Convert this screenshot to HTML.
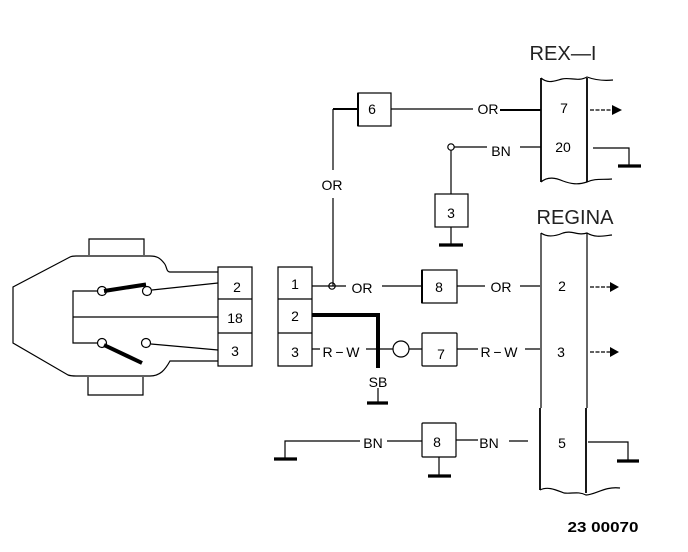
<!DOCTYPE html>
<html><head><meta charset="utf-8"><style>
html,body{margin:0;padding:0;background:#fff}
svg{display:block}
text{font-family:"Liberation Sans",sans-serif;fill:#000;text-anchor:middle}
.l{font-size:14px}
.t{font-size:20px;fill:#222}
</style></head><body>
<svg width="688" height="552" viewBox="0 0 688 552" xmlns="http://www.w3.org/2000/svg">
<rect width="688" height="552" fill="#fff"/>
<g fill="none" stroke="#000" stroke-width="1.2">
<!-- left connector -->
<path d="M218 272H170C166 272 167 266 164 263C160 258 157 256 150 256H76Q72 256 70 257L13 287V343L68 375Q71 376 76 376H150C160 376 165 370 170 361H218"/>
<path d="M89 255V239H144V255M88 377V395H143V377"/>
<path d="M218 267H252V299H218ZM218 299H252V333H218ZM218 333H252V366H218Z"/>
<path d="M97 291H73V343H97M73 317H218M152 290L218 283M151 344L218 350"/>
<circle cx="102" cy="291" r="4.5" fill="#fff"/><circle cx="147" cy="291" r="4.5" fill="#fff"/>
<circle cx="102" cy="343" r="4.5" fill="#fff"/><circle cx="146" cy="343" r="4.5" fill="#fff"/>
<!-- middle connector -->
<path d="M278 267H312V299H278ZM278 299H312V333H278ZM278 333H312V366H278Z"/>
<!-- boxes -->
<rect x="358" y="93" width="33" height="33"/>
<rect x="435" y="194" width="33" height="33"/>
<rect x="422" y="270" width="35" height="33"/>
<rect x="422" y="333" width="35" height="33" rx="1"/>
<rect x="422" y="423" width="34" height="34" rx="1"/>
<!-- wires -->
<path d="M333 109V170M333 198V286M391 109H473M500 110H541"/>
<path d="M454 147H487M520 147H541M451 150V194M451 227V245M593 148H629V166"/>
<path d="M312 286H346M382 286H422M457 286H485M520 286H540"/>
<path d="M312 349H320M366 349H393M409 349H422M457 349H478M525 349H540"/>
<path d="M297 459H285V441H360M387 441H422M456 440H478M509 441H528M439 457V476M588 442H628V460M378 388V403"/>
<path d="M590 110H612M590 287H610M590 352H610" stroke-dasharray="4 1.5"/>
<circle cx="451" cy="147" r="3.2"/>
<circle cx="332" cy="286" r="3.2"/>
<circle cx="401" cy="349" r="8"/>
<!-- columns -->
<path d="M541 78V182M587 78V182" stroke-width="1.8"/>
<path d="M541 78C548 84 554 81 562 79C570 77 578 82 587 77C595 80 603 81 613 80"/>
<path d="M541 182C548 176 556 178 563 181C571 184 578 185 587 182C595 178 603 180 612 179"/>
<path d="M541 233C548 238 556 236 563 233C572 230 578 236 587 233C595 238 603 236 612 235"/>
<path d="M541 233V408M587 233V408"/>
<path d="M540 408V490M586 408V493" stroke-width="1.8"/>
<path d="M540 490C548 486 556 490 564 493C572 494 578 491 586 495C595 495 605 486 620 488"/>
</g>
<g fill="none" stroke="#000">
<path d="M333 109H358" stroke-width="2"/>
<path d="M358 93V126" stroke-width="2"/>
<path d="M422 270V303" stroke-width="2"/>
<path d="M500 110H541" stroke-width="2"/>
<path d="M104 291L146 284.5" stroke-width="4"/>
<path d="M104 345L142 363" stroke-width="4"/>
<path d="M312 315H378V368" stroke-width="4"/>
<path d="M439 245H463M618 166H641M367 403H388M274 459H297M428 476H451M617 461H639" stroke-width="3.2"/>
</g>
<path d="M612 105L622 110L612 115ZM610 282L619 287L610 292ZM610 347L619 352L610 357Z" fill="#000"/>
<text class="t" x="563" y="60" textLength="67" lengthAdjust="spacingAndGlyphs">REX—I</text>
<text class="t" x="575" y="224" textLength="77" lengthAdjust="spacingAndGlyphs">REGINA</text>
<g class="l">
<text class="l" x="237" y="292">2</text><text class="l" x="235" y="323">18</text><text class="l" x="235" y="356">3</text>
<text class="l" x="295" y="289">1</text><text class="l" x="295" y="321">2</text><text class="l" x="295" y="357">3</text>
<text class="l" x="372" y="114">6</text><text class="l" x="451" y="218">3</text><text class="l" x="439" y="292">8</text><text class="l" x="441" y="359">7</text><text class="l" x="437" y="447">8</text>
<text class="l" x="564" y="113">7</text><text class="l" x="563" y="152">20</text><text class="l" x="562" y="291">2</text><text class="l" x="561" y="357">3</text><text class="l" x="562" y="448">5</text>
<text class="l" x="488" y="114">OR</text><text class="l" x="332" y="190">OR</text><text class="l" x="362" y="293">OR</text><text class="l" x="501" y="292">OR</text>
<text class="l" x="501" y="156">BN</text><text class="l" x="373" y="448">BN</text><text class="l" x="489" y="448">BN</text>
<text class="l" x="341" y="357" textLength="37" lengthAdjust="spacing">R−W</text><text class="l" x="499" y="357" textLength="37" lengthAdjust="spacing">R−W</text>
<text class="l" x="378" y="387">SB</text>
</g>
<text x="603" y="532" font-size="14.5" font-weight="bold" textLength="71" lengthAdjust="spacingAndGlyphs">23 00070</text>
</svg>
</body></html>
